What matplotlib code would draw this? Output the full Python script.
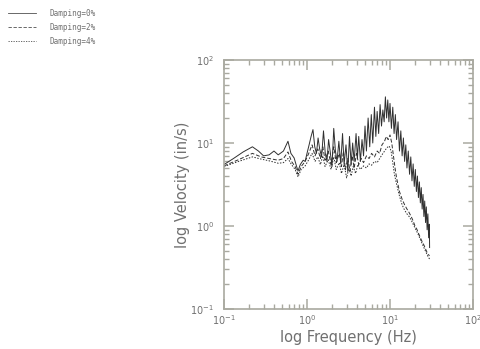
import matplotlib
matplotlib.use("Agg")
import matplotlib.pyplot as plt
from matplotlib.lines import Line2D
from matplotlib.ticker import LogLocator, NullFormatter

# ---- data ----
freq_0 = [0.10, 0.13, 0.17, 0.22, 0.26, 0.30, 0.35, 0.40, 0.45, 0.52, 0.59, 0.64, 0.70, 0.75,
          0.78, 0.83, 0.90, 0.95, 1.00, 1.06, 1.12, 1.18, 1.24, 1.30, 1.36, 1.42, 1.50, 1.58,
          1.66, 1.74, 1.82, 1.90, 2.00, 2.10, 2.20, 2.30, 2.42, 2.55, 2.68, 2.80, 2.95, 3.10,
          3.25, 3.40, 3.55, 3.70, 3.90, 4.05, 4.20, 4.40, 4.60, 4.80, 5.00, 5.20, 5.45, 5.70,
          5.95, 6.20, 6.50, 6.75, 7.00, 7.30, 7.60, 7.90, 8.20, 8.50, 8.80, 9.10, 9.40, 9.70,
          10.0, 10.4, 10.8, 11.2, 11.6, 12.0, 12.5, 13.0, 13.5, 14.0, 14.5, 15.0, 15.5, 16.0,
          16.6, 17.2, 17.8, 18.4, 19.0, 19.6, 20.2, 20.8, 21.4, 22.0, 22.6, 23.2, 23.8, 24.4,
          25.0, 25.6, 26.2, 26.8, 27.4, 28.0, 28.6, 29.2, 29.8, 30.0]
vel_0 = [5.5, 6.5, 7.8, 9.0, 8.0, 7.0, 7.2, 8.0, 7.2, 8.0, 10.5, 7.5, 6.6, 5.2,
         4.6, 5.5, 6.2, 6.0, 7.5, 9.5, 12.0, 14.5, 9.0, 7.5, 11.5, 8.5, 6.8, 14.0,
         7.5, 6.0, 11.0, 8.0, 5.2, 15.0, 8.0, 6.0, 10.5, 5.6, 13.0, 5.5, 9.5, 4.5,
         12.0, 5.5, 10.0, 6.0, 13.0, 6.5, 12.0, 6.0, 11.0, 7.0, 16.0, 8.0, 20.0, 9.0,
         22.0, 10.0, 27.0, 12.0, 24.0, 13.0, 29.0, 16.0, 25.0, 18.0, 36.0, 20.0, 33.0, 18.0,
         30.0, 15.0, 27.0, 13.0, 22.0, 11.0, 18.0, 8.0, 14.0, 7.0, 11.5, 6.0, 9.5, 5.0,
         8.0, 4.2, 6.8, 3.5, 5.6, 3.0, 4.8, 2.6, 4.0, 2.2, 3.4, 1.9, 2.9, 1.6,
         2.4, 1.3, 2.0, 1.1, 1.7, 0.9, 1.4, 0.72, 1.05, 0.55]

freq_2 = [0.10, 0.15, 0.22, 0.28, 0.35, 0.45, 0.52, 0.59, 0.65, 0.72, 0.78, 0.85, 0.95, 1.05,
          1.15, 1.25, 1.35, 1.45, 1.55, 1.65, 1.80, 1.95, 2.10, 2.25, 2.45, 2.60, 2.75, 2.90,
          3.10, 3.30, 3.50, 3.70, 3.95, 4.20, 4.50, 4.80, 5.20, 5.60, 6.00, 6.50, 7.00, 7.50,
          8.00, 8.60, 9.00, 9.50, 10.0, 10.5, 11.0, 11.5, 12.0, 13.0, 14.0, 15.0, 16.0, 17.0,
          18.0, 19.0, 20.0, 21.0, 22.0, 23.0, 24.0, 25.0, 26.0, 27.0, 28.0, 29.0, 30.0]
vel_2 = [5.3, 6.3, 7.5, 6.8, 6.5, 6.2, 6.5, 7.8, 6.0, 5.2, 4.2, 5.2, 6.0, 7.5,
         9.5, 7.0, 8.5, 6.5, 9.0, 6.2, 8.0, 5.5, 9.0, 5.8, 7.5, 5.2, 8.0, 4.8,
         6.5, 4.6, 7.0, 5.0, 7.5, 5.5, 6.5, 5.8, 7.0, 6.5, 7.5, 6.8, 8.0, 7.5,
         9.5, 10.5, 12.0, 11.0, 12.5, 10.0, 7.0, 5.0, 3.8, 2.6, 2.1, 1.8, 1.6, 1.45,
         1.3, 1.15, 1.0, 0.92, 0.82, 0.74, 0.67, 0.62, 0.57, 0.52, 0.48, 0.45, 0.44]

freq_4 = [0.10, 0.15, 0.22, 0.28, 0.35, 0.45, 0.52, 0.59, 0.65, 0.72, 0.78, 0.85, 0.95, 1.05,
          1.15, 1.25, 1.35, 1.45, 1.55, 1.65, 1.80, 1.95, 2.10, 2.25, 2.45, 2.60, 2.80, 3.00,
          3.20, 3.40, 3.60, 3.85, 4.10, 4.40, 4.80, 5.20, 5.60, 6.00, 6.50, 7.00, 7.50, 8.00,
          8.60, 9.20, 9.80, 10.3, 10.8, 11.3, 12.0, 13.0, 14.0, 15.0, 16.0, 17.0, 18.0, 19.0,
          20.0, 21.0, 22.0, 23.0, 24.0, 25.0, 26.0, 27.0, 28.0, 29.0, 30.0]
vel_4 = [5.2, 6.0, 6.8, 6.4, 6.1, 5.7, 5.8, 6.5, 5.5, 4.8, 3.9, 4.8, 5.3, 6.3,
         7.5, 6.0, 6.8, 5.5, 7.0, 5.2, 6.3, 4.8, 6.8, 4.8, 5.8, 4.3, 5.5, 3.8,
         5.0, 4.0, 5.2, 4.3, 5.5, 4.8, 5.3, 5.0, 5.6, 5.4, 6.0, 5.8, 6.5, 7.2,
         8.0, 8.8, 9.2, 8.0, 5.8, 4.2, 3.2, 2.3, 1.8, 1.55, 1.4, 1.3, 1.18, 1.05,
         0.95, 0.86, 0.78, 0.70, 0.64, 0.58, 0.53, 0.49, 0.45, 0.42, 0.40]

series_labels = ["Damping=0%", "Damping=2%", "Damping=4%"]
x_label = "log Frequency (Hz)"
y_label = "log Velocity (in/s)"

# ---- styling ----
spine_col = "#a9a9a0"
text_col = "#707070"
line_col = "#303030"
styles = ["-", (0, (4, 2)), (0, (1.5, 1.5))]

fig = plt.figure(figsize=(4.81, 3.49), dpi=100)
ax = fig.add_axes([224 / 481, 40 / 349, 249 / 481, 249 / 349])

for f, v, ls in zip([freq_0, freq_2, freq_4], [vel_0, vel_2, vel_4], styles):
    ax.plot(f, v, color=line_col, lw=0.7, linestyle=ls)

ax.set_xscale("log")
ax.set_yscale("log")
ax.set_xlim(0.1, 100)
ax.set_ylim(0.1, 100)

for sp in ax.spines.values():
    sp.set_color(spine_col)
    sp.set_linewidth(1.2)

ax.xaxis.set_major_locator(LogLocator(base=10, numticks=10))
ax.yaxis.set_major_locator(LogLocator(base=10, numticks=10))
ax.xaxis.set_minor_locator(LogLocator(base=10, subs=range(2, 10), numticks=10))
ax.yaxis.set_minor_locator(LogLocator(base=10, subs=range(2, 10), numticks=10))
ax.xaxis.set_minor_formatter(NullFormatter())
ax.yaxis.set_minor_formatter(NullFormatter())
ax.tick_params(which="both", direction="in", top=True, right=True,
               color=spine_col, labelcolor=text_col, labelsize=7)
ax.tick_params(which="major", length=7, width=1.1)
ax.tick_params(which="minor", length=3.5, width=1.0)
ax.tick_params(axis="x", which="major", pad=3)
ax.tick_params(axis="y", which="major", pad=7)

ax.set_xlabel(x_label, color=text_col, fontsize=10.5, labelpad=2)
ax.set_ylabel(y_label, color=text_col, fontsize=10.5, labelpad=0)

# legend (drawn at top-left of the figure)
for i, (lab, ls) in enumerate(zip(series_labels, styles)):
    y = 1 - (13 + 14 * i) / 349
    fig.add_artist(Line2D([8 / 481, 36 / 481], [y, y], transform=fig.transFigure,
                          color="#505050", lw=0.6, linestyle=ls))
    fig.text(50 / 481, y, lab, color=text_col, fontsize=5.5,
             family="DejaVu Sans Mono", va="center", ha="left")

fig.savefig("out.png", dpi=100)
